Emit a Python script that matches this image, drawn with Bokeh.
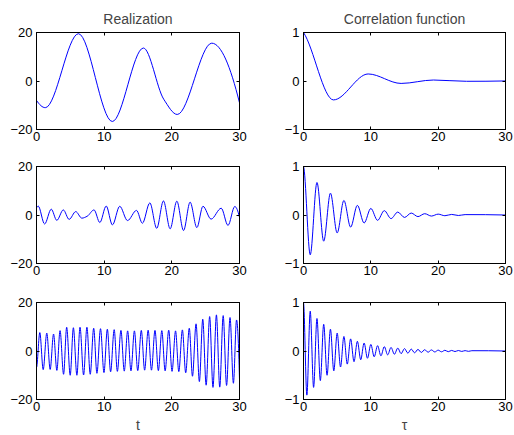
import numpy as np
from bokeh.plotting import figure
from bokeh.layouts import column, row
from bokeh.models import Range1d, FixedTicker, LinearAxis, ColumnDataSource, CustomJSTickFormatter
from bokeh.embed import file_html
from bokeh.resources import INLINE

# ---------------- data (extrema / knots) ----------------
x_ticks = [0, 10, 20, 30]
real_yticks = [-20, 0, 20]
real_ylabels = {-20: "\u221220", 0: "0", 20: "20"}
corr_yticks = [-1, 0, 1]
corr_ylabels = {-1: "\u22121", 0: "0", 1: "1"}

# Realization 1 (top left)
r1_t = [0, 1.3, 6.2, 11.2, 15.8, 18.8, 20.8, 25.9, 30]
r1_y = [-8.0, -11.0, 19.5, -16.7, 13.6, -7.5, -13.8, 15.6, -9.0]

# Realization 2 (middle left)
r2_t = [0, 0.25, 1.2, 2.18, 3.0, 3.96, 4.82, 5.8, 6.7, 7.5, 8.5, 9.36, 10.3, 11.22,
        12.3, 13.45, 14.78, 15.65, 16.75, 17.77, 18.76, 19.75, 20.74, 21.73, 22.7,
        23.7, 24.6, 25.8, 27.3, 28.3, 29.3, 30]
r2_y = [3.0, 3.7, -3.7, 2.4, -2.2, 2.1, -1.8, 1.4, -1.3, -0.5, 2.1, -3.1, 3.7, -4.1,
        3.6, -2.3, 1.9, -3.4, 5.0, -5.5, 5.8, -5.7, 5.7, -6.4, 5.3, -5.2, 3.6, -1.7,
        2.8, -4.3, 3.5, -1.0]

# Realization 3 (bottom left)
r3_t = [0, 0.49, 0.99, 1.52, 2.02, 2.52, 3.01, 3.48, 4.0, 4.46, 4.98, 5.45, 5.97,
        6.43, 6.96, 7.45, 7.94, 8.45, 8.93, 9.46, 9.97, 10.47, 10.95, 11.48, 11.95,
        12.48, 12.97, 13.47, 13.96, 14.47, 14.96, 15.49, 15.98, 16.5, 16.99, 17.51,
        18.01, 18.52, 19.01, 19.54, 20.03, 20.55, 21.03, 21.56, 22.05, 22.58, 23.05,
        23.58, 24.07, 24.57, 25.07, 25.59, 26.08, 26.59, 27.08, 27.59, 28.09, 28.6,
        29.1, 29.56, 30]
r3_y = [-6.8, 7.6, -7.7, 7.4, -7.6, 7.0, -8.0, 8.4, -9.6, 9.8, -10.0, 9.6, -10.0,
        9.8, -9.9, 9.8, -9.6, 9.4, -9.2, 9.2, -8.9, 9.0, -8.6, 8.8, -8.4, 8.5, -8.3,
        8.3, -8.2, 8.3, -8.1, 8.5, -7.9, 8.6, -7.9, 8.5, -8.1, 8.4, -8.2, 8.6, -8.4,
        8.3, -8.5, 8.7, -9.0, 9.4, -10.4, 11.2, -12.6, 13.1, -14.1, 14.2, -15.0, 14.9,
        -14.9, 14.6, -14.2, 13.8, -13.3, 12.8, -11.8]

# Correlation function 1 (top right)
c1_tau = [0, 4.45, 9.6, 14.5, 19.3, 24.2, 30]
c1_r = [1.0, -0.39, 0.145, -0.05, 0.02, -0.006, 0.001]

# Correlation function 2 (middle right)
c2_tau = [0, 1, 2, 3, 4, 5, 6, 7, 8, 9, 10, 11, 12, 13, 14, 15, 16, 17, 18, 19,
          20, 21, 22, 23, 24, 30]
c2_r = [1.0, -0.82, 0.67, -0.54, 0.45, -0.37, 0.30, -0.25, 0.20, -0.165, 0.135,
        -0.11, 0.09, -0.074, 0.06, -0.05, 0.04, -0.033, 0.027, -0.022, 0.018,
        -0.015, 0.012, -0.01, 0.008, 0.0]

# Correlation function 3 (bottom right)
c3_tau = [0, 0.5, 1, 1.5, 2, 2.5, 3, 3.5, 4, 4.5, 5, 5.5, 6, 6.5, 7, 7.5, 8, 8.5,
          9, 9.5, 10, 10.5, 11, 11.5, 12, 12.5, 13, 13.5, 14, 14.5, 15, 15.5, 16,
          16.5, 17, 17.5, 18, 18.5, 19, 19.5, 20, 20.5, 21, 21.5, 22, 22.5, 23,
          23.5, 24, 24.5, 25, 30]
c3_r = [1.0, -0.91, 0.82, -0.75, 0.67, -0.61, 0.55, -0.50, 0.45, -0.41, 0.37,
        -0.33, 0.30, -0.27, 0.25, -0.22, 0.20, -0.18, 0.165, -0.15, 0.135, -0.12,
        0.11, -0.10, 0.09, -0.08, 0.074, -0.067, 0.06, -0.055, 0.05, -0.045, 0.04,
        -0.037, 0.033, -0.03, 0.027, -0.025, 0.022, -0.02, 0.018, -0.017, 0.015,
        -0.014, 0.012, -0.011, 0.01, -0.009, 0.008, -0.007, 0.006, 0.0]

FONT = "Liberation Sans"
BLUE = "#0000ff"


def hermite_slopes(x, y, d_start=None):
    x = np.asarray(x, float)
    y = np.asarray(y, float)
    h = np.diff(x)
    delta = np.diff(y) / h
    n = len(x)
    d = np.zeros(n)
    for k in range(1, n - 1):
        if delta[k - 1] * delta[k] > 0:
            w1 = 2 * h[k] + h[k - 1]
            w2 = h[k] + 2 * h[k - 1]
            d[k] = (w1 + w2) / (w1 / delta[k - 1] + w2 / delta[k])

    def end(h0, h1, d0, d1):
        s = ((2 * h0 + h1) * d0 - h0 * d1) / (h0 + h1)
        if np.sign(s) != np.sign(d0):
            s = 0.0
        elif np.sign(d0) != np.sign(d1) and abs(s) > abs(3 * d0):
            s = 3 * d0
        return s

    d[0] = end(h[0], h[1], delta[0], delta[1]) if d_start is None else d_start
    d[-1] = end(h[-1], h[-2], delta[-1], delta[-2])
    return d


def curve_source(x, y, d_start=None):
    x = np.asarray(x, float)
    y = np.asarray(y, float)
    d = hermite_slopes(x, y, d_start)
    h = np.diff(x)
    return ColumnDataSource(dict(
        x0=x[:-1], y0=y[:-1], x1=x[1:], y1=y[1:],
        cx0=x[:-1] + h / 3, cy0=y[:-1] + d[:-1] * h / 3,
        cx1=x[1:] - h / 3, cy1=y[1:] - d[1:] * h / 3,
    ))


def style_axis(a, labels=True):
    a.major_tick_in = 3
    a.major_tick_out = 0
    a.minor_tick_line_color = None
    a.axis_line_color = "black"
    a.major_tick_line_color = "black"
    a.major_label_text_font = FONT
    a.major_label_text_font_size = "13px"
    a.major_label_text_color = "black"
    if not labels:
        a.formatter = CustomJSTickFormatter(code="return ''")
        a.major_label_standoff = 0


def panel(x, y, yr, yticks, ylabels, left, right, top, bottom, fw, fh,
          title=None, xlabel=None, d_start=None):
    p = figure(frame_width=fw, frame_height=fh,
               x_range=Range1d(0, 30), y_range=Range1d(*yr),
               x_axis_location=None, y_axis_location=None,
               output_backend="svg", toolbar_location=None,
               min_border_left=left, min_border_right=right,
               min_border_top=top, min_border_bottom=bottom)
    p.outline_line_color = "black"
    p.background_fill_color = "white"
    p.border_fill_color = "white"
    p.grid.visible = False
    p.xgrid.grid_line_color = None
    p.ygrid.grid_line_color = None

    bx = LinearAxis(ticker=FixedTicker(ticks=x_ticks))
    style_axis(bx)
    bx.major_label_standoff = 2
    if xlabel:
        bx.axis_label = xlabel
        bx.axis_label_text_font = FONT
        bx.axis_label_text_font_size = "14px"
        bx.axis_label_text_font_style = "normal"
        bx.axis_label_standoff = 3
    p.add_layout(bx, "below")

    ly = LinearAxis(ticker=FixedTicker(ticks=yticks))
    style_axis(ly)
    ly.major_label_overrides = ylabels
    ly.major_label_standoff = 4
    p.add_layout(ly, "left")

    tx = LinearAxis(ticker=FixedTicker(ticks=x_ticks))
    style_axis(tx, labels=False)
    p.add_layout(tx, "above")

    ry = LinearAxis(ticker=FixedTicker(ticks=yticks))
    style_axis(ry, labels=False)
    p.add_layout(ry, "right")

    if title:
        p.title.text = title
        p.title.align = "center"
        p.title.text_font = FONT
        p.title.text_font_size = "14px"
        p.title.text_font_style = "normal"
        p.title.standoff = 11

    src = curve_source(x, y, d_start)
    p.bezier(x0="x0", y0="y0", x1="x1", y1="y1", cx0="cx0", cy0="cy0",
             cx1="cx1", cy1="cy1", source=src, line_color=BLUE, line_width=1)
    return p


LW, LR, RW, RR = 36, 34, 30, 9
FWL, FWR, FH = 203, 202, 97

p11 = panel(r1_t, r1_y, (-20, 20), real_yticks, real_ylabels, LW, LR, 32, 22, FWL, FH,
            title="Realization")
p12 = panel(c1_tau, c1_r, (-1, 1), corr_yticks, corr_ylabels, RW, RR, 32, 22, FWR, FH,
            title="Correlation function", d_start=-0.2)
p21 = panel(r2_t, r2_y, (-20, 20), real_yticks, real_ylabels, LW, LR, 15, 22, FWL, FH,
            d_start=0.0)
p22 = panel(c2_tau, c2_r, (-1, 1), corr_yticks, corr_ylabels, RW, RR, 15, 22, FWR, FH,
            d_start=-0.2)
p31 = panel(r3_t, r3_y, (-20, 20), real_yticks, real_ylabels, LW, LR, 17, 35, FWL, FH,
            xlabel="t", d_start=0.0)
p32 = panel(c3_tau, c3_r, (-1, 1), corr_yticks, corr_ylabels, RW, RR, 17, 35, FWR, FH,
            xlabel="\u03c4", d_start=-0.2)

layout = column(row(p11, p12), row(p21, p22), row(p31, p32))

open("out.html", "w").write(file_html(layout, INLINE))
